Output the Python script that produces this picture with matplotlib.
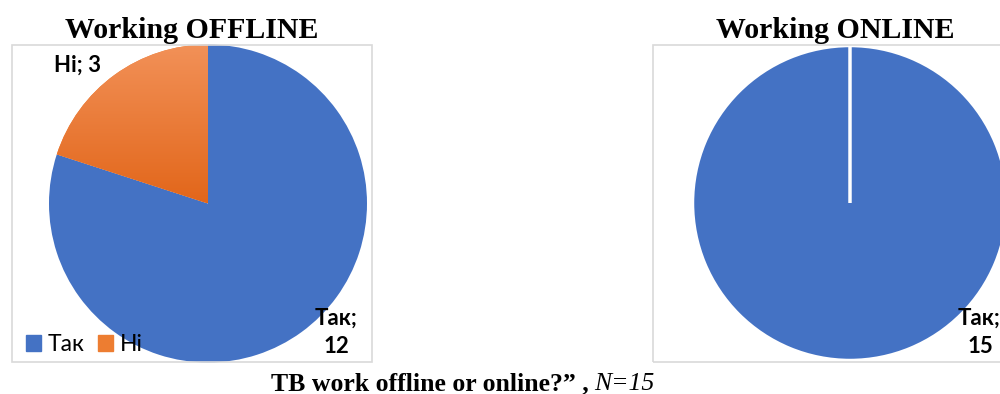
import matplotlib
matplotlib.use("Agg")
import matplotlib.pyplot as plt
import numpy as np
from matplotlib.patches import Rectangle
from matplotlib.colors import LinearSegmentedColormap

# data
categories = ["Так", "Ні"]
offline_vals = [12, 3]
online_vals = [15, 0]
titles = ["Working OFFLINE", "Working ONLINE"]
caption_bold = "TB work offline or online?\u201d ,"
caption_ital = "N=15"

blue = "#4472C4"
orange = "#ED7D31"
W, H = 1000, 394

fig = plt.figure(figsize=(W / 100, H / 100), dpi=100)

def fx(x):
    return x / W

def fy(y):
    return 1 - y / H

def pie_axes(cx, cy, r):
    return fig.add_axes([fx(cx - r), fy(cy + r), 2 * r / W, 2 * r / H])

# chart frames
for x0, x1 in [(11.5, 372), (653, 1012)]:
    fig.patches.append(Rectangle((fx(x0), fy(361.5)), fx(x1 - x0), (361.5 - 44.5) / H,
                                 transform=fig.transFigure, fill=False,
                                 edgecolor="#d9d9d9", linewidth=1.2))

# offline pie
ax1 = pie_axes(208, 203.5, 159)
wedges1, _ = ax1.pie(offline_vals, colors=[blue, orange], startangle=90,
                     counterclock=False, radius=1,
                     wedgeprops=dict(linewidth=0))
# gradient on the orange slice
cmap = LinearSegmentedColormap.from_list("og", ["#E2661A", "#F29158"])
grad = np.linspace(0, 1, 256).reshape(-1, 1)
im = ax1.imshow(grad, extent=(-1, 1, 0, 1), origin="lower", cmap=cmap,
                aspect="auto", zorder=3)
im.set_clip_path(wedges1[1])
ax1.set_xlim(-1, 1)
ax1.set_ylim(-1, 1)
ax1.set_aspect("equal")

# online pie
ax2 = pie_axes(850, 203, 157.5)
wedges2, _ = ax2.pie(online_vals, colors=[blue, orange], startangle=90,
                     counterclock=False, radius=1,
                     wedgeprops=dict(edgecolor="white", linewidth=2.5))
ax2.set_xlim(-1, 1)
ax2.set_ylim(-1, 1)
ax2.set_aspect("equal")

# titles
tfont = dict(family="Liberation Serif", weight="bold", size=21.5)
fig.text(fx(192), fy(38), titles[0], ha="center", va="baseline", **tfont)
fig.text(fx(835), fy(38), titles[1], ha="center", va="baseline", **tfont)

# data labels
lfont = dict(family="Lato", weight="bold", size=16)
fig.text(fx(78), fy(72), f"{categories[1]}; {offline_vals[1]}",
         ha="center", va="baseline", **lfont)
fig.text(fx(336), fy(325), f"{categories[0]};", ha="center", va="baseline", **lfont)
fig.text(fx(336), fy(353), f"{offline_vals[0]}", ha="center", va="baseline", **lfont)
fig.text(fx(979), fy(325), f"{categories[0]};", ha="center", va="baseline", **lfont)
fig.text(fx(980), fy(353), f"{online_vals[0]}", ha="center", va="baseline", **lfont)

# legend
leg_handles = [Rectangle((0, 0), 1, 1, color=blue), Rectangle((0, 0), 1, 1, color=orange)]
fig.legend(leg_handles, categories, loc="center left", ncol=2,
           bbox_to_anchor=(fx(26), fy(344.5)), frameon=False,
           prop=dict(family="Lato", size=16.5),
           handlelength=0.65, handleheight=0.65, handletextpad=0.3,
           columnspacing=0.6, borderpad=0, borderaxespad=0)

# caption
fig.text(fx(589), fy(390), caption_bold, ha="right", va="baseline",
         family="Liberation Serif", weight="bold", size=18.5)
fig.text(fx(594), fy(390), caption_ital, ha="left", va="baseline",
         family="Liberation Serif", style="italic", size=18.5)

fig.savefig("out.png", dpi=100)
